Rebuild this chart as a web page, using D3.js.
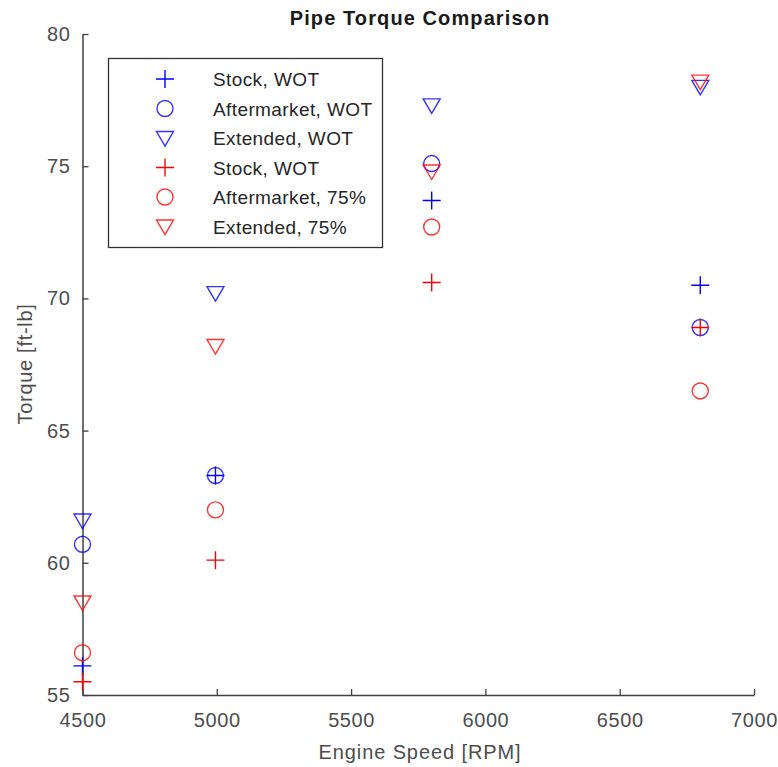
<!DOCTYPE html>
<html>
<head>
<meta charset="utf-8">
<script src="https://cdn.jsdelivr.net/npm/d3@7"></script>
<style>
  body { margin: 0; background: #fff; }
  text { font-family: "Liberation Sans", Arial, sans-serif; }
</style>
</head>
<body>
<svg width="778" height="767"></svg>
<script>
var rpm = [4500, 4995, 5800, 6800];

var stockWot = [56.1, 63.3, 73.7, 70.5];
var afterWot = [60.7, 63.3, 75.1, 68.9];
var extWot = [61.6, 70.2, 77.3, 78.0];
var stock75 = [55.5, 60.1, 70.6, 68.9];
var after75 = [56.6, 62.0, 72.7, 66.5];
var ext75 = [58.5, 68.2, 74.8, 78.2];

var xTicks = [4500, 5000, 5500, 6000, 6500, 7000];
var yTicks = [55, 60, 65, 70, 75, 80];

var seriesNames = ["Stock, WOT", "Aftermarket, WOT", "Extended, WOT", "Stock, WOT", "Aftermarket, 75%", "Extended, 75%"];
var seriesVals = [stockWot, afterWot, extWot, stock75, after75, ext75];
var seriesShape = ["plus", "circle", "tri", "plus", "circle", "tri"];
var seriesColor = ["#0000ff", "#0000ff", "#0000ff", "#ff0000", "#ff0000", "#ff0000"];

// plot area (note: "top" is a reserved window global, so use other names)
var pLeft = 82.5, pRight = 754, pTop = 34, pBottom = 695;

var svg = d3.select("svg");

var x = d3.scaleLinear().domain([4500, 7000]).range([pLeft, pRight]);
var y = d3.scaleLinear().domain([55, 80]).range([pBottom, pTop]);

var axisColor = "#404040", labelColor = "#4d4d4d";

// axes (box off, ticks point inward)
var xAxis = svg.append("g")
    .attr("transform", "translate(0," + pBottom + ")")
    .call(d3.axisBottom(x).tickValues(xTicks).tickFormat(d3.format("d")).tickSizeInner(-6).tickSizeOuter(0).tickPadding(18));
var yAxis = svg.append("g")
    .attr("transform", "translate(" + pLeft + ",0)")
    .call(d3.axisLeft(y).tickValues(yTicks).tickSizeInner(-6).tickSizeOuter(0).tickPadding(12));

[xAxis, yAxis].forEach(function (g) {
    g.select(".domain").attr("stroke", axisColor).attr("stroke-width", 1.5);
    g.selectAll(".tick line").attr("stroke", axisColor).attr("stroke-width", 1.3);
    g.selectAll(".tick text").attr("fill", labelColor).style("font-size", "20px")
        .style("letter-spacing", "0.6px")
        .style("font-family", "'Liberation Sans', Arial, sans-serif");
});

// titles
svg.append("text")
    .attr("x", 420).attr("y", 25)
    .attr("text-anchor", "middle")
    .style("font-size", "20px").style("font-weight", "bold").style("letter-spacing", "1.1px")
    .attr("fill", "#1a1a1a")
    .text("Pipe Torque Comparison");

svg.append("text")
    .attr("x", 420).attr("y", 759)
    .attr("text-anchor", "middle")
    .style("font-size", "20px").style("letter-spacing", "0.9px").attr("fill", labelColor)
    .text("Engine Speed [RPM]");

svg.append("text")
    .attr("transform", "translate(32,364) rotate(-90)")
    .attr("text-anchor", "middle")
    .style("font-size", "20px").style("letter-spacing", "0.7px").attr("fill", labelColor)
    .text("Torque [ft-lb]");

function drawMarker(g, shape, color, cx, cy) {
    if (shape == "plus") {
        g.append("path")
            .attr("d", "M" + (cx - 9) + "," + cy + "H" + (cx + 9) + "M" + cx + "," + (cy - 9) + "V" + (cy + 9))
            .attr("stroke", color).attr("stroke-width", 1.4).attr("fill", "none");
    } else if (shape == "circle") {
        g.append("circle")
            .attr("cx", cx).attr("cy", cy).attr("r", 8)
            .attr("stroke", color).attr("stroke-width", 1.4).attr("fill", "none").attr("opacity", 0.8);
    } else {
        g.append("path")
            .attr("d", "M" + (cx - 8.5) + "," + (cy - 6.5) + "H" + (cx + 8.5) + "L" + cx + "," + (cy + 8) + "Z")
            .attr("stroke", color).attr("stroke-width", 1.4).attr("fill", "none").attr("opacity", 0.8);
    }
}

var plot = svg.append("g");
seriesVals.forEach(function (vals, s) {
    vals.forEach(function (v, i) {
        drawMarker(plot, seriesShape[s], seriesColor[s], x(rpm[i]), y(v));
    });
});

// legend
var leg = svg.append("g");
leg.append("rect")
    .attr("x", 108.5).attr("y", 58.5).attr("width", 274).attr("height", 189)
    .attr("fill", "#fff").attr("stroke", "#333").attr("stroke-width", 1.3);
seriesNames.forEach(function (name, s) {
    var ly = 79 + s * 29.5;
    drawMarker(leg, seriesShape[s], seriesColor[s], 165, ly);
    leg.append("text")
        .attr("x", 213).attr("y", ly + 7)
        .style("font-size", "19px").style("letter-spacing", "0.4px").attr("fill", "#262626")
        .text(name);
});
</script>
</body>
</html>
